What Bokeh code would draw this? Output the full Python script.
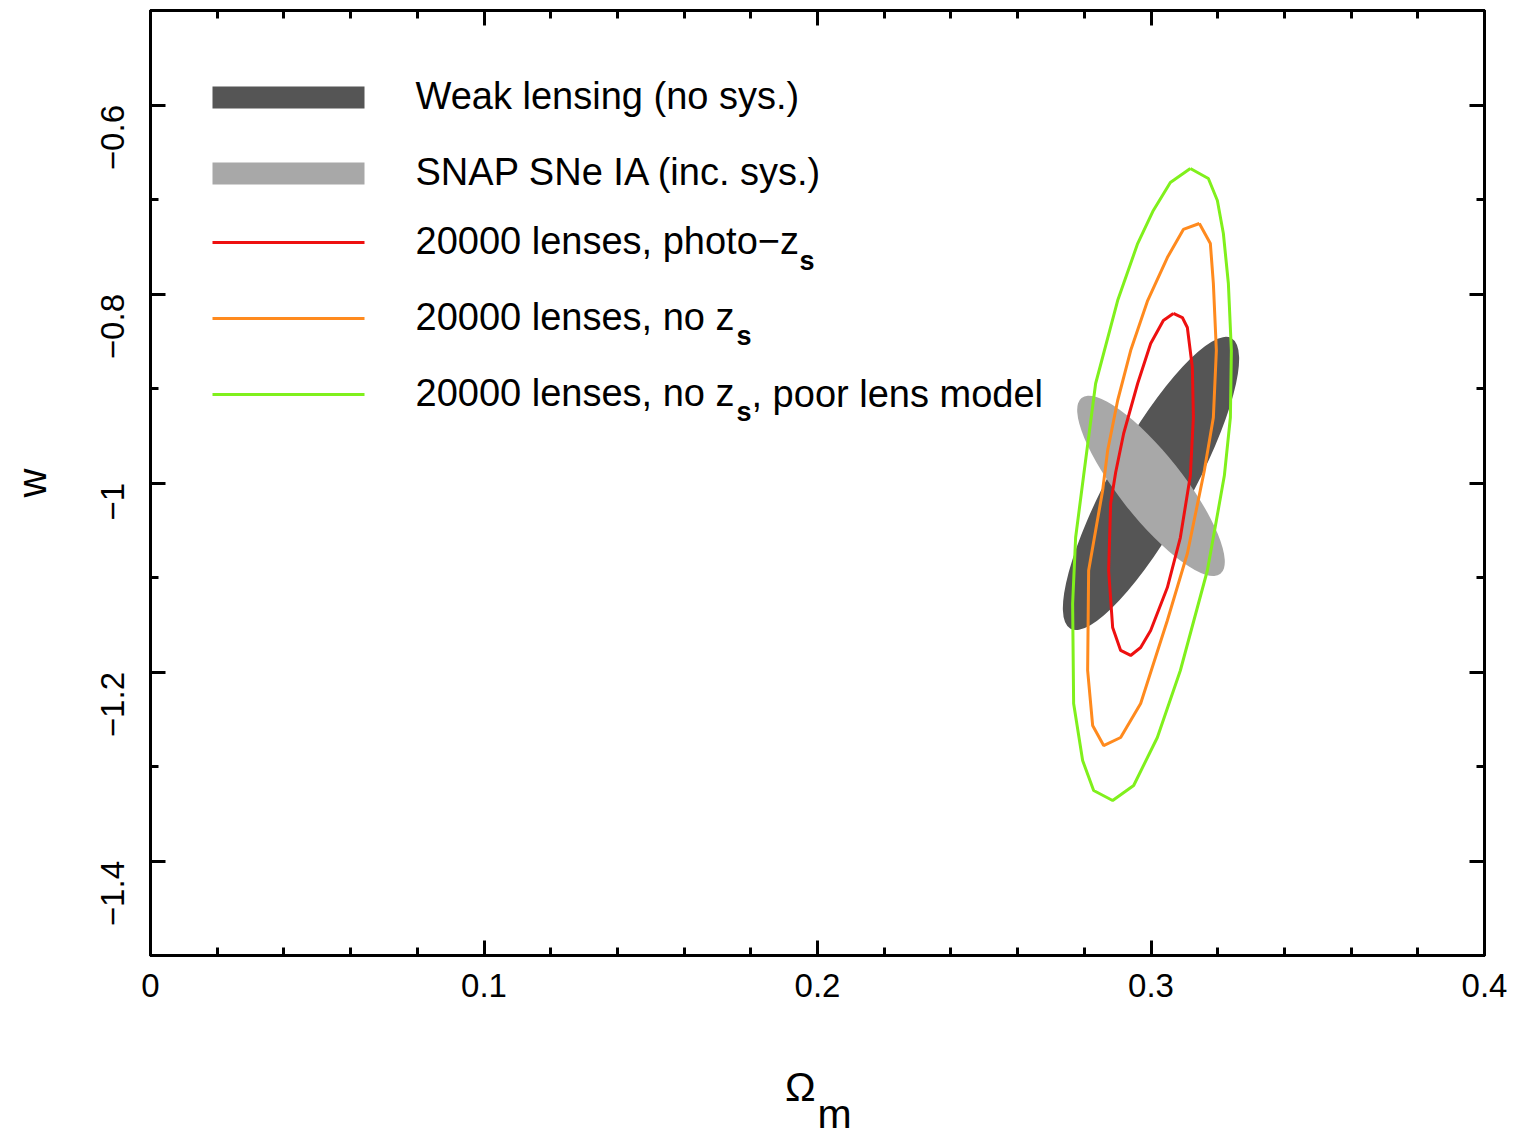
import math
from bokeh.plotting import figure
from bokeh.models import FixedTicker, LinearAxis, Label
from bokeh.embed import file_html
from bokeh.resources import INLINE

# ---------------- data ----------------
x_major = [0.0, 0.1, 0.2, 0.3, 0.4]
x_minor = [0.02, 0.04, 0.06, 0.08, 0.12, 0.14, 0.16, 0.18, 0.22, 0.24, 0.26,
           0.28, 0.32, 0.34, 0.36, 0.38]
x_labels = ["0", "0.1", "0.2", "0.3", "0.4"]
y_major = [-1.4, -1.2, -1.0, -0.8, -0.6]
y_minor = [-1.5, -1.3, -1.1, -0.9, -0.7, -0.5]
y_labels = ["\u22121.4", "\u22121.2", "\u22121", "\u22120.8", "\u22120.6"]

# Fisher ellipses: centre, extent along major axis (in Omega_m), extent along minor (in w), tilt (deg)
wl_center = (0.3000, -1.0005)
wl_width = 0.0996
wl_height = 0.0868
wl_angle = 61.0

sn_center = (0.3000, -1.0030)
sn_width = 0.0672
sn_height = 0.0677
sn_angle = -51.7

# contours (Omega_m, w)
red_om = [0.3067, 0.3094, 0.3109, 0.3124, 0.3127, 0.3118, 0.3088, 0.3049, 0.2999,
          0.2969, 0.2939, 0.2909, 0.2885, 0.2873, 0.2879, 0.2894, 0.2918, 0.2960,
          0.2999, 0.3037, 0.3067]
red_w = [-0.8206, -0.8249, -0.8354, -0.8778, -0.9307, -0.9921, -1.0577, -1.1106,
         -1.1561, -1.1741, -1.1825, -1.1772, -1.1529, -1.0926, -1.0217, -0.9889,
         -0.9476, -0.8947, -0.8524, -0.8280, -0.8206]

orange_om = [0.3145, 0.3178, 0.3187, 0.3196, 0.3187, 0.3160, 0.3109, 0.3049, 0.2969,
             0.2909, 0.2858, 0.2825, 0.2810, 0.2813, 0.2855, 0.2870, 0.2900, 0.2939,
             0.2990, 0.3049, 0.3097, 0.3145]
orange_w = [-0.7254, -0.7466, -0.7889, -0.8598, -0.9307, -0.9868, -1.0746, -1.1455,
            -1.2333, -1.2693, -1.2778, -1.2566, -1.1984, -1.0926, -1.0079, -0.9656,
            -0.9127, -0.8598, -0.8069, -0.7614, -0.7317, -0.7254]

green_om = [0.3118, 0.3172, 0.3199, 0.3217, 0.3232, 0.3241, 0.3238, 0.3220, 0.3196,
            0.3169, 0.3088, 0.3019, 0.2948, 0.2885, 0.2828, 0.2795, 0.2768, 0.2765,
            0.2774, 0.2798, 0.2834, 0.2900, 0.2960, 0.3007, 0.3058, 0.3118]
green_w = [-0.6672, -0.6778, -0.7011, -0.7360, -0.7889, -0.8598, -0.9307, -0.9921,
           -1.0397, -1.0926, -1.1984, -1.2693, -1.3201, -1.3360, -1.3254, -1.2937,
           -1.2333, -1.1275, -1.0577, -0.9921, -0.8947, -0.8069, -0.7466, -0.7116,
           -0.6820, -0.6672]

legend_labels = ["Weak lensing (no sys.)", "SNAP SNe IA (inc. sys.)",
                 "20000 lenses, photo\u2212z", "20000 lenses, no z",
                 "20000 lenses, no z"]

x_title = "\u03a9\u00a0\u00a0\u00a0\n\u00a0\u00a0\u00a0m"
y_title = "w"

# ---------------- styling / layout ----------------
DARK = "#555555"
LIGHT = "#a8a8a8"
RED = "#ee1010"
ORANGE = "#ff8a1e"
GREEN = "#80f01c"
FONT = "Liberation Sans"

W, H = 1517, 1140
FL, FR, FT, FB = 150, 1484, 10, 955
X0, X1, Y0, Y1 = 0.0, 0.4, -1.5, -0.5
BASE_SHIFT = 0.34  # em offset of Bokeh's alphabetic anchor


def X(px):
    return X0 + (px - FL) / (FR - FL) * (X1 - X0)


def Y(py):
    return Y1 - (py - FT) / (FB - FT) * (Y1 - Y0)


p = figure(width=W, height=H, x_range=(X0, X1), y_range=(Y0, Y1),
           output_backend="svg", toolbar_location=None,
           min_border_left=FL, min_border_right=W - FR,
           min_border_top=FT, min_border_bottom=H - FB)
p.grid.visible = False
p.outline_line_color = "black"
p.outline_line_width = 3
p.background_fill_color = "white"
p.border_fill_color = "white"


def style_axis(ax, ticks, minor, labels, show_labels):
    ax.ticker = FixedTicker(ticks=ticks, minor_ticks=minor)
    ax.axis_line_color = "black"
    ax.axis_line_width = 3
    ax.major_tick_in = 15
    ax.major_tick_out = 0
    ax.minor_tick_in = 8
    ax.minor_tick_out = 0
    ax.major_tick_line_width = 3
    ax.minor_tick_line_width = 3
    ax.major_tick_line_color = "black"
    ax.minor_tick_line_color = "black"
    ax.axis_label = None
    if show_labels:
        ax.major_label_overrides = {t: l for t, l in zip(ticks, labels)}
        ax.major_label_text_font = FONT
        ax.major_label_text_font_size = "33px"
        ax.major_label_text_color = "black"
    else:
        ax.major_label_text_font_size = "0px"
        ax.major_label_standoff = 0
        ax.major_label_text_alpha = 0


def style_title(ax, text, size, standoff):
    ax.axis_label = text
    ax.axis_label_text_font = FONT
    ax.axis_label_text_font_size = f"{size}px"
    ax.axis_label_text_font_style = "normal"
    ax.axis_label_text_color = "black"
    ax.axis_label_standoff = standoff


xa, ya = p.xaxis[0], p.yaxis[0]
style_axis(xa, x_major, x_minor, x_labels, True)
style_axis(ya, y_major, y_minor, y_labels, True)
xa.major_label_standoff = 18
ya.major_label_standoff = 38
ya.major_label_orientation = math.pi / 2
style_title(ya, y_title, 40, 33)
style_title(xa, x_title, 41, 64)
xa.axis_label_text_line_height = 0.6

top = LinearAxis()
style_axis(top, x_major, x_minor, x_labels, False)
p.add_layout(top, "above")
right = LinearAxis()
style_axis(right, y_major, y_minor, y_labels, False)
p.add_layout(right, "right")

# ellipses
p.ellipse(x=[wl_center[0]], y=[wl_center[1]], width=[wl_width], height=[wl_height],
          angle=[wl_angle], angle_units="deg", fill_color=DARK, line_color=None)
p.ellipse(x=[sn_center[0]], y=[sn_center[1]], width=[sn_width], height=[sn_height],
          angle=[sn_angle], angle_units="deg", fill_color=LIGHT, line_color=None)

# contours
p.line(red_om, red_w, line_color=RED, line_width=3)
p.line(orange_om, orange_w, line_color=ORANGE, line_width=3)
p.line(green_om, green_w, line_color=GREEN, line_width=3)

# ---------------- legend (manual) ----------------
rows = [97, 173, 242, 318, 394]
p.quad(left=[X(212)], right=[X(364)], top=[Y(rows[0] - 11)], bottom=[Y(rows[0] + 11)],
       fill_color=DARK, line_color=None)
p.quad(left=[X(212)], right=[X(364)], top=[Y(rows[1] - 11)], bottom=[Y(rows[1] + 11)],
       fill_color=LIGHT, line_color=None)
for r, c in zip(rows[2:], [RED, ORANGE, GREEN]):
    p.line([X(212), X(364)], [Y(r), Y(r)], line_color=c, line_width=3)


def text_at(px, baseline_py, text, size, bold=False):
    """Label whose glyph baseline lands at pixel row baseline_py."""
    return Label(x=px - FL, y=FB - (baseline_py - BASE_SHIFT * size),
                 x_units="screen", y_units="screen", text=text, text_font=FONT,
                 text_font_size=f"{size}px",
                 text_font_style="bold" if bold else "normal",
                 text_color="black", text_baseline="alphabetic", text_align="left")


for r, t in zip(rows, legend_labels):
    p.add_layout(text_at(415, r + 11, t, 38))

for sx, sy in [(799, 270), (736, 345), (736, 421)]:
    p.add_layout(text_at(sx, sy, "s", 27, bold=True))
p.add_layout(text_at(751, 406, ",  poor lens model", 38))

open("out.html", "w").write(file_html(p, INLINE))
